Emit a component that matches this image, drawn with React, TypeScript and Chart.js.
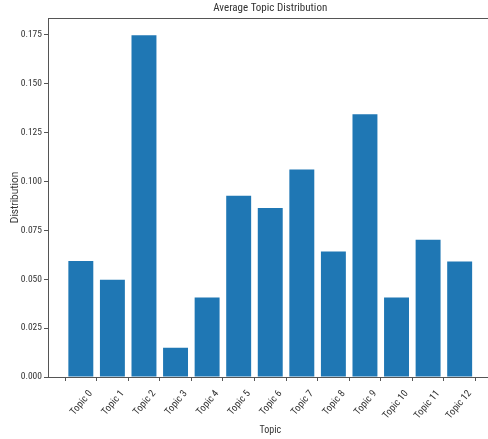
import React, { useEffect, useRef } from "react";
import { Chart, registerables } from "chart.js";

Chart.register(...registerables);

const topics = [
  "Topic 0", "Topic 1", "Topic 2", "Topic 3", "Topic 4", "Topic 5", "Topic 6",
  "Topic 7", "Topic 8", "Topic 9", "Topic 10", "Topic 11", "Topic 12",
];
const distribution = [
  0.0593, 0.0497, 0.1747, 0.0149, 0.0406, 0.0927, 0.0864,
  0.1061, 0.0642, 0.1343, 0.0406, 0.0701, 0.059,
];
const yTickValues = [0, 0.025, 0.05, 0.075, 0.1, 0.125, 0.15, 0.175];

const FONT = "'Roboto Condensed', Roboto, sans-serif";
const FONT_V = "Roboto, sans-serif";
const AXIS = "#555";
const TEXT = "#333";

const topBorder = {
  id: "topBorder",
  afterDraw(chart: any) {
    const { ctx, chartArea } = chart;
    ctx.save();
    ctx.strokeStyle = AXIS;
    ctx.lineWidth = 1;
    ctx.beginPath();
    ctx.moveTo(chartArea.left, chartArea.top + 0.5);
    ctx.lineTo(chartArea.right, chartArea.top + 0.5);
    ctx.stroke();
    ctx.restore();
  },
};

export default function App() {
  const ref = useRef<HTMLCanvasElement>(null);
  useEffect(() => {
    if (!ref.current) return;
    const chart = new Chart(ref.current, {
      type: "bar",
      data: {
        datasets: [
          {
            label: "Distribution",
            data: distribution.map((v, i) => ({ x: i, y: v })),
            backgroundColor: "#1f77b4",
            borderWidth: 0,
            barPercentage: 0.79,
            categoryPercentage: 1,
          },
        ],
      },
      options: {
        animation: false,
        responsive: false,
        layout: { padding: { left: 0, right: 3.5, top: 0, bottom: 0 } },
        plugins: {
          legend: { display: false },
          tooltip: { enabled: false },
          title: {
            display: true,
            text: "Average Topic Distribution",
            fullSize: false,
            color: TEXT,
            font: { family: FONT, size: 11, weight: "normal" },
            padding: { top: 2, bottom: 2.8 },
          },
        },
        scales: {
          x: {
            type: "linear",
            offset: false,
            min: -1.04,
            max: 13.04,
            afterFit: (s: any) => {
              s.height = 62;
            },
            afterBuildTicks: (s: any) => {
              s.ticks = topics.map((_, i) => ({ value: i }));
            },
            grid: {
              drawOnChartArea: false,
              drawTicks: true,
              tickLength: 4,
              color: AXIS,
            },
            border: { display: true, color: AXIS, width: 1 },
            ticks: {
              autoSkip: false,
              minRotation: 50,
              maxRotation: 50,
              labelOffset: 10,
              padding: 7,
              color: TEXT,
              font: { family: FONT, size: 10 },
              callback: (v: any) => topics[Math.round(Number(v))] ?? "",
            },
            title: {
              display: true,
              text: "Topic",
              color: TEXT,
              font: { family: FONT, size: 10 },
              padding: { top: 0, bottom: 3 },
            },
          },
          y: {
            min: 0,
            max: 0.1835,
            afterFit: (s: any) => {
              s.width = 48;
            },
            afterBuildTicks: (s: any) => {
              s.ticks = yTickValues.map((v) => ({ value: v }));
            },
            grid: {
              drawOnChartArea: false,
              drawTicks: true,
              tickLength: 4,
              color: AXIS,
            },
            border: { display: true, color: AXIS, width: 1 },
            ticks: {
              padding: 2,
              color: TEXT,
              font: { family: FONT, size: 9.5 },
              callback: (v: any) => Number(v).toFixed(3),
            },
            title: {
              display: true,
              text: "Distribution",
              color: TEXT,
              font: { family: FONT_V, size: 10 },
              padding: { top: 9, bottom: 0 },
            },
          },
        },
      },
      plugins: [topBorder],
    });
    return () => chart.destroy();
  }, []);
  return (
    <div
      style={{
        position: "absolute",
        left: 0,
        top: 0,
        width: 488,
        height: 439,
        overflow: "hidden",
        background: "#fff",
      }}
    >
      <canvas ref={ref} width={496} height={439} />
    </div>
  );
}
